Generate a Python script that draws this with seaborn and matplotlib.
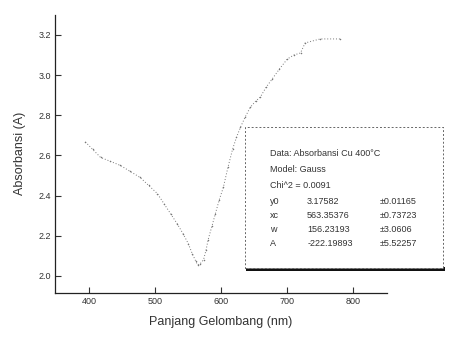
import matplotlib
matplotlib.use('Agg')
import matplotlib.pyplot as plt
import seaborn as sns
import pandas as pd
from matplotlib.patches import Rectangle

# wavelength (nm) vs absorbance
wavelength = [394, 405, 417, 432, 447, 462, 477, 490, 503, 513, 523, 533, 542,
              550, 556, 561, 564, 568, 573, 577, 580, 586, 591, 597, 603, 610,
              617, 623, 629, 636, 644, 652, 659, 668, 677, 688, 700, 710, 720,
              727, 750, 780]
absorb = [2.667, 2.63, 2.59, 2.57, 2.55, 2.52, 2.49, 2.45, 2.41, 2.36, 2.31, 2.26,
          2.21, 2.16, 2.11, 2.075, 2.055, 2.06, 2.08, 2.13, 2.18, 2.25, 2.31, 2.38,
          2.44, 2.54, 2.63, 2.69, 2.74, 2.79, 2.84, 2.87, 2.89, 2.94, 2.98, 3.03,
          3.08, 3.10, 3.11, 3.16, 3.18, 3.18]

fit_rows = [('y0', '3.17582', '\u00b10.01165'),
            ('xc', '563.35376', '\u00b10.73723'),
            ('w', '156.23193', '\u00b13.0606'),
            ('A', '-222.19893', '\u00b15.52257')]

sns.set_theme(style='ticks')
plt.rcParams['font.family'] = ['Liberation Sans', 'DejaVu Sans']

df = pd.DataFrame({'nm': wavelength, 'A': absorb})

fig = plt.figure(figsize=(4.51, 3.45), dpi=100)
ax = fig.add_axes([0.122, 0.151, 0.736, 0.806])
sns.lineplot(data=df, x='nm', y='A', ax=ax, color='#777777', lw=0.7,
             linestyle=(0, (1, 2)), marker='o', markersize=1.1, markeredgewidth=0)

ax.set_xlim(348, 851)
ax.set_ylim(1.915, 3.30)
ax.set_xticks([400, 500, 600, 700, 800])
ax.set_yticks([2.0, 2.2, 2.4, 2.6, 2.8, 3.0, 3.2])
ax.set_yticklabels(['2.0', '2.2', '2.4', '2.6', '2.8', '3.0', '3.2'])
ax.tick_params(direction='in', length=4, width=0.8, labelsize=6.5,
               colors='#333333', pad=3)
for s in ['top', 'right']:
    ax.spines[s].set_visible(False)
for s in ['left', 'bottom']:
    ax.spines[s].set_linewidth(0.9)
    ax.spines[s].set_color('#222222')
ax.set_xlabel('Panjang Gelombang (nm)', fontsize=9, color='#333333', labelpad=7)
ax.set_ylabel('Absorbansi (A)', fontsize=9, color='#333333', labelpad=9)

# fit results box (Origin style)
fig.patches.append(Rectangle((0.546, 0.215), 0.44, 0.012, transform=fig.transFigure,
                             facecolor='#111111', edgecolor='none'))
fig.patches.append(Rectangle((0.543, 0.223), 0.439, 0.409, transform=fig.transFigure,
                             facecolor='white', edgecolor='#666666', lw=0.7,
                             linestyle=(0, (2, 2))))
tk = dict(fontsize=6.5, color='#333333', va='center', transform=fig.transFigure)
fig.text(0.598, 1 - 153 / 345, 'Data: Absorbansi Cu 400\u00b0C', **tk)
fig.text(0.598, 1 - 170 / 345, 'Model: Gauss', **tk)
fig.text(0.598, 1 - 186 / 345, 'Chi^2 = 0.0091', **tk)
for i, (name, val, err) in enumerate(fit_rows):
    y = 1 - (201 + i * 14.3) / 345
    fig.text(0.598, y, name, **tk)
    fig.text(0.681, y, val, **tk)
    fig.text(0.843, y, err, **tk)

fig.savefig('out.png', dpi=100)
